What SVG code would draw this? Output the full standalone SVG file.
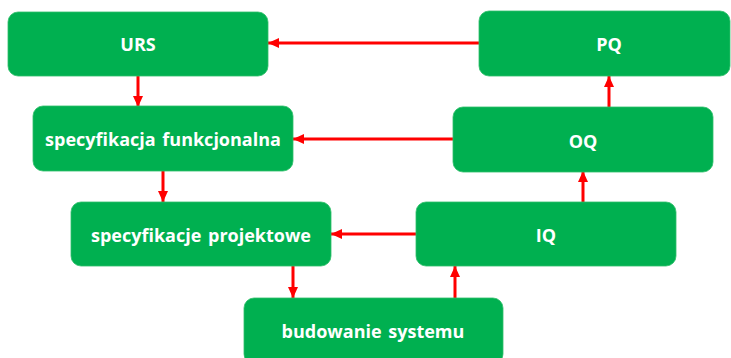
<svg xmlns="http://www.w3.org/2000/svg" width="731" height="358" viewBox="0 0 731 358">
<style>
.box{fill:#00B050;stroke:#2fbf6a;stroke-width:0.8}
.lbl{fill:#fff;font-family:"Open Sans","Liberation Sans",sans-serif;font-weight:bold;font-size:18px;word-spacing:2px;text-anchor:middle;dominant-baseline:central}
.con{stroke:#FF0000;stroke-width:3;fill:none;marker-end:url(#ah)}
</style>
<defs>
<marker id="ah" markerUnits="userSpaceOnUse" markerWidth="12" markerHeight="10" refX="11" refY="5" orient="auto">
<path d="M0,0 L11,5 L0,10 Z" fill="#FF0000"/>
</marker>
</defs>
<rect width="731" height="358" fill="#fff"/>
<g id="connectors">
<line class="con" x1="480" y1="43" x2="268" y2="43"/>
<line class="con" x1="138" y1="76" x2="138" y2="107"/>
<line class="con" x1="453" y1="139" x2="293" y2="139"/>
<line class="con" x1="163" y1="171" x2="163" y2="202"/>
<line class="con" x1="609" y1="107" x2="609" y2="76"/>
<line class="con" x1="583" y1="202" x2="583" y2="171"/>
<line class="con" x1="416" y1="234" x2="331" y2="234"/>
<line class="con" x1="293" y1="266" x2="293" y2="298"/>
<line class="con" x1="455" y1="298" x2="455" y2="266"/>
</g>
<g id="urs"><rect class="box" x="8" y="12" width="260" height="64" rx="10"/><text class="lbl" x="138" y="44">URS</text></g>
<g id="pq"><rect class="box" x="479" y="11" width="251" height="65" rx="10"/><text class="lbl" x="609" y="44">PQ</text></g>
<g id="spec-func"><rect class="box" x="33" y="106" width="260" height="65" rx="10"/><text class="lbl" x="163" y="139">specyfikacja funkcjonalna</text></g>
<g id="oq"><rect class="box" x="453" y="107" width="260" height="65" rx="10"/><text class="lbl" x="583" y="141">OQ</text></g>
<g id="spec-proj"><rect class="box" x="71" y="202" width="260" height="64" rx="10"/><text class="lbl" x="201" y="235">specyfikacje projektowe</text></g>
<g id="iq"><rect class="box" x="416" y="202" width="260" height="64" rx="10"/><text class="lbl" x="546" y="235">IQ</text></g>
<g id="budowanie"><rect class="box" x="244" y="298" width="259" height="66" rx="10"/><text class="lbl" x="373" y="331">budowanie systemu</text></g>
</svg>
